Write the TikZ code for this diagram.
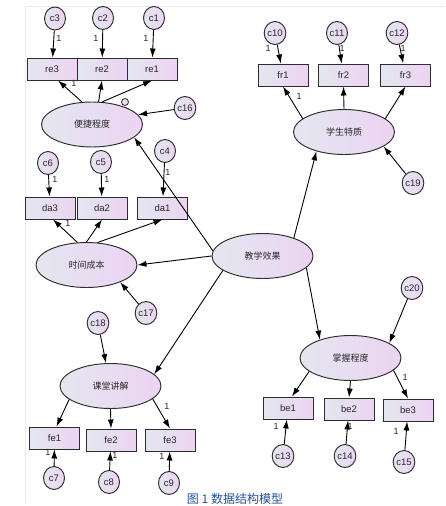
\documentclass[tikz,border=0pt]{standalone}
\usepackage{fontspec}
\setmainfont{Liberation Sans}
\newfontfamily\cjk{Noto Sans CJK SC}
\usetikzlibrary{shapes.geometric,arrows.meta}
\definecolor{fillL}{RGB}{228,230,240}
\definecolor{fillR}{RGB}{236,212,242}
\definecolor{edgec}{RGB}{45,45,45}
\definecolor{txtc}{RGB}{40,40,40}
\definecolor{capblue}{RGB}{30,80,160}
\definecolor{framec}{RGB}{234,234,234}
\begin{document}
\begin{tikzpicture}[x=1pt,y=-1pt,
  base/.style={draw=edgec,line width=0.95pt,left color=fillL,right color=fillR,inner sep=0pt,text=txtc,font=\fontsize{9.5}{11}\selectfont},
  lat/.style={base,ellipse,minimum width=101pt,minimum height=45pt,font=\cjk\fontsize{9}{11}\selectfont},
  obs/.style={base,rectangle,minimum width=50pt,minimum height=22pt},
  err/.style={base,ellipse,minimum width=21pt,minimum height=23pt},
  arr/.style={-{Latex[length=9pt,width=6pt]},line width=0.9pt,black},
  one/.style={font=\fontsize{9}{10}\selectfont,inner sep=0pt,text=txtc}
]
\useasboundingbox (0,0) rectangle (445,506);
\draw[framec,line width=0.8pt] (25,503) -- (25,6) -- (445,6);

% latent variables
\node[lat] (pj) at (92,124.5) {便捷程度};
\node[lat] (sj) at (86.5,265) {时间成本};
\node[lat] (kt) at (110.5,386) {课堂讲解};
\node[lat] (jx) at (262.5,256) {教学效果};
\node[lat] (xs) at (344,132) {学生特质};
\node[lat] (zw) at (350.5,358) {掌握程度};

% observed
\node[obs] (re3) at (52,69) {re3};
\node[obs] (re2) at (102,69) {re2};
\node[obs] (re1) at (152,69) {re1};
\node[obs] (da3) at (50,208) {da3};
\node[obs] (da2) at (102,208) {da2};
\node[obs] (da1) at (162.5,208) {da1};
\node[obs] (fr1) at (283,75) {fr1};
\node[obs] (fr2) at (343.5,75) {fr2};
\node[obs] (fr3) at (405.5,75) {fr3};
\node[obs] (fe1) at (54.5,438) {fe1};
\node[obs] (fe2) at (111,440) {fe2};
\node[obs] (fe3) at (170,440) {fe3};
\node[obs] (be1) at (288,408) {be1};
\node[obs] (be2) at (349,409) {be2};
\node[obs] (be3) at (408,410) {be3};

% errors
\node[err] (c3) at (55,18.5) {c3};
\node[err] (c2) at (103,18) {c2};
\node[err] (c1) at (154,18) {c1};
\node[err] (c16) at (185,108) {c16};
\node[err] (c6) at (48,163) {c6};
\node[err] (c5) at (101,162) {c5};
\node[err] (c4) at (165,151) {c4};
\node[err] (c17) at (146,313) {c17};
\node[err] (c10) at (275,33) {c10};
\node[err] (c11) at (337,33) {c11};
\node[err] (c12) at (397,33) {c12};
\node[err] (c19) at (413,183) {c19};
\node[err] (c18) at (98,323) {c18};
\node[err] (c20) at (412,288) {c20};
\node[err] (c7) at (54,478) {c7};
\node[err] (c8) at (109,482) {c8};
\node[err] (c9) at (169,483) {c9};
\node[err] (c13) at (283,456) {c13};
\node[err] (c14) at (345,456) {c14};
\node[err] (c15) at (404,462) {c15};

\node[base,circle,minimum size=7pt,line width=0.8pt] (dot) at (125,102) {};

% error -> indicator
\foreach \e/\o in {c3/re3,c2/re2,c1/re1,c6/da3,c5/da2,c4/da1,c10/fr1,c11/fr2,c12/fr3,c7/fe1,c8/fe2,c9/fe3,c13/be1,c14/be2,c15/be3}
  \draw[arr] (\e) -- (\o);

% latent -> indicators
\draw[arr] (pj.114) -- ([xshift=6pt]re3.south);
\draw[arr] (pj.74) -- (re2.south);
\draw[arr] (pj.66) -- (re1.south);
\draw[arr] (sj.112) -- ([xshift=3pt]da3.south);
\draw[arr] (sj.90) -- (da2.south);
\draw[arr] (sj.64) -- (da1.south);
\draw[arr] (xs.162) -- (fr1.south);
\draw[arr] (xs.90) -- (fr2.south);
\draw[arr] (xs.18) -- (fr3.south);
\draw[arr] (kt.198) -- ([xshift=2pt]fe1.north);
\draw[arr] (kt.270) -- (fe2.north);
\draw[arr] (kt.-17) -- (fe3.north);
\draw[arr] (zw.198) -- ([xshift=4pt]be1.north);
\draw[arr] (zw.270) -- (be2.north);
\draw[arr] (zw.-16) -- (be3.north);

% structural paths
\draw[arr] (jx.174) -- (pj.-17);
\draw[arr] (jx.west) -- (sj.east);
\draw[arr] (jx.200) -- (kt.15);
\draw[arr] (jx.30) -- (xs.215);
\draw[arr] (jx.345) -- (zw.149);

% disturbances
\draw[arr] (c16) -- (pj.12);
\draw[arr] (c17) -- (sj.-27);
\draw[arr] (c18) -- (kt);
\draw[arr] (c19) -- (xs.-20);
\draw[arr] (c20) -- (zw.21);

% labels "1"
\foreach \x/\y in {59/38,96/38,146/38,74/83,55/179,107/179,168/172,68/223,268/48,342/48,403/48,299/96,167/406,48/452,115/455,162/456,405/377,276/426,350/426,396/431}
  \node[one] at (\x,\y) {1};

\node[font=\cjk\fontsize{12}{14}\selectfont,text=capblue,inner sep=0pt] (cap) at (235,499) {图 1 数据结构模型};
\end{tikzpicture}
\end{document}
